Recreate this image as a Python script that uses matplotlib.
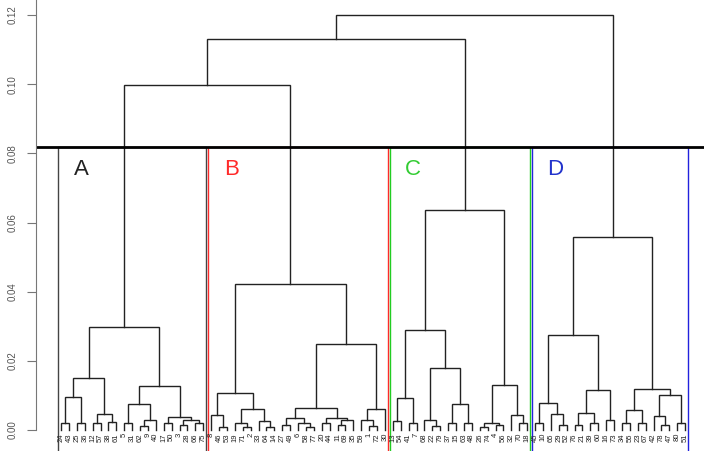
import matplotlib
matplotlib.use("Agg")
import matplotlib.pyplot as plt

plt.rcParams['font.family'] = ['Liberation Sans', 'DejaVu Sans']

# ---- data: dendrogram clusters as nested [height, left, right]; leaves are sample labels ----
cluster_A = [0.0298,
             [0.0150,
              [0.0095, [0.0020, 24, 43], [0.0020, 25, 36]],
              [0.0045, [0.0020, 12, 57], [0.0022, 38, 61]]],
             [0.0127,
              [0.0075, [0.0020, 5, 31], [0.0030, [0.0012, 62, 9], 40]],
              [0.0038, [0.0020, 17, 50], [0.0030, [0.0015, 3, 28], [0.0020, 66, 75]]]]]

cluster_B = [0.0422,
             [0.0107,
              [0.0043, 8, [0.0010, 46, 53]],
              [0.0060, [0.0020, 19, [0.0010, 71, 2]], [0.0025, 33, [0.0010, 64, 14]]]],
             [0.0249,
              [0.0064,
               [0.0035, [0.0015, 27, 49], [0.0020, 6, [0.0010, 58, 77]]],
               [0.0035, [0.0020, 20, 44], [0.0030, [0.0015, 11, 69], 35]]],
              [0.0061, [0.0030, 59, [0.0012, 1, 72]], 30]]]

cluster_C = [0.0636,
             [0.0289,
              [0.0093, [0.0025, 13, 54], [0.0020, 41, 7]],
              [0.0179, [0.0030, 68, [0.0012, 22, 79]],
               [0.0075, [0.0020, 37, 15], [0.0020, 63, 48]]]],
             [0.0130,
              [0.0020, [0.0010, 26, 74], [0.0015, 4, 56]],
              [0.0043, 32, [0.0020, 70, 18]]]]

cluster_D = [0.0558,
             [0.0275,
              [0.0077, [0.0020, 45, 10], [0.0045, 65, [0.0015, 29, 52]]],
              [0.0116, [0.0050, [0.0015, 76, 21], [0.0020, 39, 60]], [0.0030, 16, 73]]],
             [0.0119,
              [0.0058, [0.0020, 34, 55], [0.0020, 23, 67]],
              [0.0101, [0.0040, 42, [0.0015, 78, 47]], [0.0020, 80, 51]]]]

h_AB = 0.0998      # A + B merge
h_ABC = 0.113      # (A,B) + C merge
h_root = 0.120     # root merge
cluster_names = ["A", "B", "C", "D"]
cluster_colors = ["#444444", "#ff2a2a", "#22cc22", "#2222dd"]
text_colors = ["#222222", "#ff2a2a", "#33cc33", "#2233cc"]
yticks = [0.00, 0.02, 0.04, 0.06, 0.08, 0.10, 0.12]

root = [h_root, [h_ABC, [h_AB, cluster_A, cluster_B], cluster_C], cluster_D]

# ---- figure ----
fig = plt.figure(figsize=(7.04, 4.51), dpi=100)
ax = fig.add_axes([36 / 704, 0, 1 - 36 / 704, 1])

line_col = "#222222"
lw = 1.0
leaves = []


def count_leaves(node):
    if isinstance(node, list):
        return count_leaves(node[1]) + count_leaves(node[2])
    return 1


def draw(node):
    if not isinstance(node, list):
        leaves.append(node)
        return float(len(leaves)), 0.0
    h, left, right = node
    xl, hl = draw(left)
    xr, hr = draw(right)
    ax.plot([xl, xl, xr, xr], [hl, h, h, hr], color=line_col, lw=lw,
            solid_joinstyle='miter', clip_on=False)
    return (xl + xr) / 2.0, h


draw(root)
N = len(leaves)

# leaf labels
for i, lab in enumerate(leaves):
    ax.text(i + 1, -0.0009, str(lab), rotation=90, ha='center', va='top',
            fontsize=5.5, color="#222222", clip_on=False)

# cut line and rectangles
cut = (h_AB + cluster_C[0]) / 2.0
bottom = -0.0062
start = 1
for name, cl, col, tcol in zip(cluster_names, [cluster_A, cluster_B, cluster_C, cluster_D],
                               cluster_colors, text_colors):
    n = count_leaves(cl)
    x0 = start - 0.34
    x1 = start + n - 1 + 0.33
    ax.plot([x0, x0, x1, x1], [bottom, cut, cut, bottom], color=col, lw=1.0, clip_on=False)
    ax.text(x0 + 2.9, 0.0752, name, color=tcol, fontsize=16, ha='center', va='center')
    start += n

ax.axhline(cut, color="black", lw=2.0)

# axes styling
ax.set_xlim(1 - 25 / 7.9, 1 + 643 / 7.9)
ax.set_ylim(-21 / 3458, 430 / 3458)
for s in ["top", "right", "bottom"]:
    ax.spines[s].set_visible(False)
ax.spines["left"].set_color("#777777")
ax.spines["left"].set_bounds(0, 430 / 3458)
ax.set_xticks([])
ax.set_yticks(yticks)
ax.set_yticklabels([f"{v:.2f}" for v in yticks])
ax.tick_params(axis='y', length=6.5, width=0.8, color="#777777", labelsize=7,
               labelcolor="#555555", pad=7, labelrotation=90)
for t in ax.get_yticklabels():
    t.set_va('center')
ax.patch.set_alpha(0)

fig.savefig("out.png", dpi=100)
